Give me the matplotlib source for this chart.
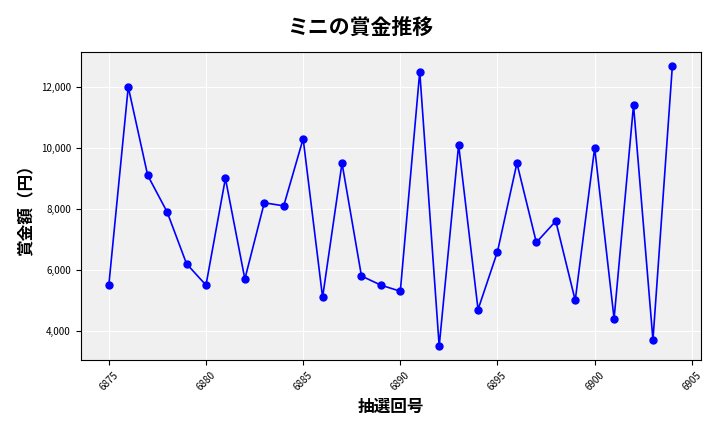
import matplotlib
matplotlib.use("Agg")
import matplotlib.pyplot as plt
from matplotlib.ticker import FuncFormatter

plt.rcParams['font.family'] = ['Noto Sans CJK JP', 'DejaVu Sans']

draws = list(range(6875, 6905))
prizes = [5500, 12000, 9100, 7900, 6200, 5500, 9000, 5700, 8200, 8100,
          10300, 5100, 9500, 5800, 5500, 5300, 12500, 3500, 10100, 4700,
          6600, 9500, 6900, 7600, 5000, 10000, 4400, 11400, 3700, 12700]

fig = plt.figure(figsize=(7.2, 4.32), dpi=100)
ax = fig.add_axes([0.112, 0.167, 0.861, 0.713])
ax.set_facecolor('#f0f0f0')
ax.grid(True, color='white', linewidth=0.8)
ax.set_axisbelow(True)
ax.plot(draws, prizes, color='blue', marker='o', markersize=5, linewidth=1.2)
ax.set_xticks(range(6875, 6906, 5))
ax.set_ylim(3050, 13150)
ax.set_yticks(range(4000, 12001, 2000))
ax.yaxis.set_major_formatter(FuncFormatter(lambda v, p: f"{int(v):,}"))
ax.tick_params(axis='x', labelrotation=45, labelsize=7)
ax.tick_params(axis='y', labelsize=7)
ax.set_xlabel('抽選回号', fontsize=12, fontweight='bold')
ax.set_ylabel('賞金額（円）', fontsize=12, fontweight='bold')
fig.suptitle('ミニの賞金推移', fontsize=15, fontweight='bold', y=0.96)
fig.savefig('out.png', dpi=100)
